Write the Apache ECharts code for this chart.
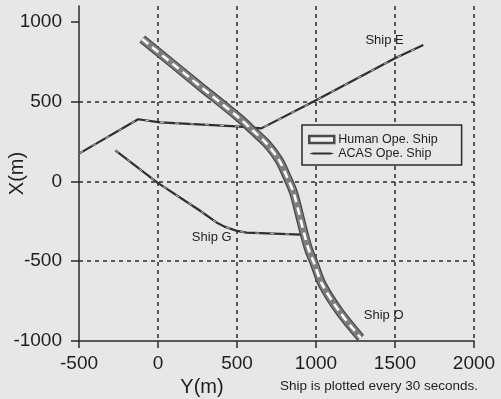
<!DOCTYPE html>
<html>
<head>
<meta charset="utf-8">
<script src="https://cdn.jsdelivr.net/npm/echarts@6/dist/echarts.min.js"></script>
<style>
  html, body { margin: 0; padding: 0; background: #e7e7e7; }
  #chart { width: 501px; height: 399px; }
</style>
</head>
<body>
<div id="chart"></div>
<script>
// trajectories as [Y(m), X(m)] pairs
const shipO = [
  [-100, 893], [264, 599], [516, 396], [598, 321], [686, 239],
  [767, 132], [818, 25], [858, -70], [893, -201], [925, -327], [956, -434],
  [987, -509], [1038, -642], [1145, -811], [1283, -981],
]
const shipE = [
  [-497, 176], [-126, 390], [13, 371], [497, 346], [654, 333],
  [1000, 509], [1503, 774], [1679, 855],
]
const shipG = [
  [-270, 195], [-6, -6], [264, -182], [370, -257], [421, -283],
  [500, -310], [560, -321], [906, -333],
]
const xTicks = [-500, 0, 500, 1000, 1500, 2000]
const yTicks = [-1000, -500, 0, 500, 1000]
const shipNames = ["Ship E", "Ship G", "Ship O"]
const labelAnchors = [[1434, 887], [340, -352], [1428, -837]]

const ink = "#1e1e1e"
const font = "Liberation Sans, Arial, sans-serif"
const plain = (v) => String(v)

const chart = echarts.init(document.getElementById("chart"), null, { renderer: "canvas" })

function acasSeries(data, label) {
  return [
    {
      name: "ACAS Ope. Ship",
      type: "line",
      data,
      showSymbol: false,
      symbol: "none",
      z: 2,
      color: "#2e2e2e",
      lineStyle: { color: "#2e2e2e", width: 2.2 },
      markPoint: label,
    },
    {
      name: label.data[0].name + " marks",
      type: "line",
      data,
      showSymbol: false,
      symbol: "none",
      z: 2,
      silent: true,
      lineStyle: { color: "#c4c4c4", width: 1, type: [4, 11] },
    },
  ]
}

function shipLabel(i) {
  return {
    symbol: "circle",
    symbolSize: 0,
    silent: true,
    label: {
      show: true,
      formatter: "{b}",
      color: ink,
      fontFamily: font,
      fontSize: 13,
    },
    data: [{ name: shipNames[i], coord: labelAnchors[i] }],
  }
}

const shipOStyle = (lineStyle) => ({
  type: "line",
  data: shipO,
  smooth: 0.3,
  showSymbol: false,
  symbol: "none",
  z: 3,
  lineStyle,
})

chart.setOption({
  animation: false,
  backgroundColor: "#e7e7e7",
  textStyle: { fontFamily: font, color: ink },
  grid: { left: 79, right: 27, top: 6, bottom: 58, containLabel: false, outerBoundsMode: "none" },
  title: {
    text: "Ship is plotted every 30 seconds.",
    left: 280,
    top: 379,
    padding: 0,
    textStyle: { fontFamily: font, fontSize: 13.5, fontWeight: "normal", color: ink },
  },
  legend: {
    orient: "vertical",
    left: 302,
    top: 125,
    padding: [8, 24, 5, 6],
    itemGap: 1,
    itemWidth: 25,
    itemHeight: 7,
    backgroundColor: "#e7e7e7",
    borderColor: "#2a2a2a",
    borderWidth: 1.5,
    borderRadius: 0,
    textStyle: { fontFamily: font, fontSize: 12.5, color: ink, padding: [0, 0, 0, -1] },
    data: [
      {
        name: "Human Ope. Ship",
        icon: "rect",
        itemStyle: { color: "#f2f2f2", borderColor: "#4a4a4a", borderWidth: 2.5 },
      },
      {
        name: "ACAS Ope. Ship",
        icon: "path://M0,1 L4,0 L21,0 L25,1 L21,2 L4,2 Z",
        itemStyle: { color: "#2e2e2e" },
      },
    ],
  },
  xAxis: {
    type: "value",
    min: -500,
    max: 2000,
    interval: 500,
    name: "Y(m)",
    nameLocation: "middle",
    nameGap: 36,
    nameMoveOverlap: false,
    nameTextStyle: { fontSize: 20, color: ink, padding: [0, 149, 0, 0] },
    axisLine: { onZero: false, lineStyle: { color: "#2a2a2a", width: 1.5 } },
    axisTick: { customValues: xTicks, length: 7, lineStyle: { color: "#2a2a2a", width: 1.5 } },
    axisLabel: { customValues: xTicks, formatter: plain, fontSize: 19, color: ink, margin: 13 },
    splitLine: {
      show: true,
      showMinLine: false,
      showMaxLine: true,
      lineStyle: { color: "#2a2a2a", width: 1.5, type: [4, 4] },
    },
  },
  yAxis: {
    type: "value",
    min: -1000,
    max: 1100,
    interval: 500,
    name: "X(m)",
    nameLocation: "middle",
    nameRotate: 90,
    nameGap: 52,
    nameMoveOverlap: false,
    nameTextStyle: { fontSize: 20, color: ink },
    axisLine: { show: true, onZero: false, lineStyle: { color: "#2a2a2a", width: 1.5 } },
    axisTick: { show: true, customValues: yTicks, length: 8, lineStyle: { color: "#2a2a2a", width: 1.5 } },
    axisLabel: { customValues: yTicks, formatter: plain, fontSize: 19, color: ink, margin: 17 },
    splitLine: {
      show: true,
      showMinLine: false,
      showMaxLine: false,
      lineStyle: { color: "#2a2a2a", width: 1.5, type: [4, 4] },
    },
  },
  series: [
    ...acasSeries(shipE, shipLabel(0)),
    ...acasSeries(shipG, shipLabel(1)),
    {
      ...shipOStyle({ color: "#474747", width: 9 }),
      name: "Human Ope. Ship",
      color: "#4a4a4a",
      markPoint: shipLabel(2),
    },
    { ...shipOStyle({ color: "#7e7e7e", width: 6.5 }), name: "Ship O fill", silent: true },
    { ...shipOStyle({ color: "#ffffff", width: 2.5, type: [8, 5] }), name: "Ship O dashes", silent: true },
  ],
})
</script>
</body>
</html>
